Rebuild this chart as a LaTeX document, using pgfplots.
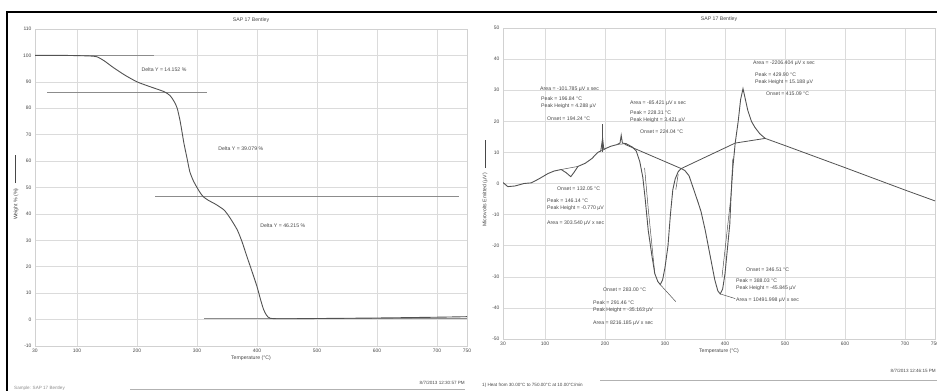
\documentclass[border=0pt]{standalone}
\usepackage{fontspec}
\setmainfont{Liberation Sans}
\usepackage{pgfplots}
\pgfplotsset{compat=1.18}
\definecolor{curve}{gray}{0.32}
\definecolor{txt}{gray}{0.28}
\newcommand{\ann}[3]{\node[anchor=west,inner sep=0pt,text=txt,font=\fontsize{5.2}{6}\selectfont] at (#1bp,{391bp-#2bp}) {#3};}
\newcommand{\annc}[3]{\node[anchor=center,inner sep=0pt,text=txt,font=\fontsize{5.2}{6}\selectfont] at (#1bp,{391bp-#2bp}) {#3};}
\begin{document}
\begin{tikzpicture}
\path[use as bounding box] (0,0) rectangle (937bp,391bp);
\pgfplotsset{
  every axis/.append style={
    scale only axis,
    width=432bp,
    xmin=30, xmax=750,
    xtick={30,100,200,300,400,500,600,700,750},
    grid=major,
    grid style={black!14, line width=0.5bp},
    axis line style={black!18},
    major tick length=0pt,
    tick style={draw=none},
    font=\fontsize{5.2}{6}\selectfont,
    ticklabel style={text=txt, font=\fontsize{5}{6}\selectfont},
    /pgf/number format/assume math mode=true,
    /pgf/number format/1000 sep={},
    label style={text=txt},
    title style={text=txt, yshift=-3bp},
    xlabel style={yshift=4bp},
  }
}
% ---------------- TGA ----------------
\begin{axis}[
  at={(35bp,45bp)}, height=317bp,
  ymin=-10, ymax=110, ytick={-10,0,...,110},
  title={SAP 17 Bentley},
  xlabel={Temperature (°C)},
  ylabel={Weight \% (\%)\quad\rule[0.5ex]{28bp}{0.4bp}},
  ylabel style={yshift=-2bp},
]
\addplot[black!45, line width=0.6bp] coordinates {(30,100) (228,100)};
\addplot[black!45, line width=0.6bp] coordinates {(50,85.85) (317,85.85)};
\addplot[black!45, line width=0.6bp] coordinates {(230,46.8) (737,46.8)};
\addplot[black!45, line width=0.6bp] coordinates {(312,0.5) (750,0.5)};
\addplot[curve, line width=0.9bp, smooth, tension=0.4] coordinates {
(30,100) (80,100) (120,99.8) (133,99.5) (145,98) (160,95.5) (180,92.5) (200,90)
(220,88.3) (245,86.3) (255,84.8) (262,82.5) (267,80) (272,75) (278,67) (283,61.5)
(288,56) (294,52.5) (300,50) (306,47.8) (311,46.4) (320,45) (330,43.8) (345,41.5)
(355,38.5) (367,34) (375,29.5) (383,24) (392,18) (400,12.5) (406,7.5) (411,3.8)
(416,1.6) (422,0.5) (440,0.3) (500,0.4) (600,0.6) (700,0.9) (750,1.1)};
\node[text=txt] at (axis cs:245,94.7) {Delta Y = 14.152 \%};
\node[text=txt] at (axis cs:373,64.6) {Delta Y = 39.079 \%};
\node[text=txt] at (axis cs:443,35.4) {Delta Y = 46.215 \%};
\end{axis}
% ---------------- DTA ----------------
\begin{axis}[
  at={(503bp,52bp)}, height=311bp,
  ymin=-50, ymax=50, ytick={-50,-40,...,50},
  title={SAP 17 Bentley},
  xlabel={Temperature (°C)},
  ylabel={Microvolts Emitted (µV)\quad\rule[0.5ex]{28bp}{0.4bp}},
  ylabel style={yshift=-2bp},
]
% baselines
\addplot[curve, line width=0.8bp] coordinates {(233,12.6) (327,4.8) (417,13) (467,14.5) (500,12.2) (600,5.1) (700,-2.1) (750,-5.6)};
\addplot[curve, line width=0.5bp] coordinates {(127,4.5) (155,5.5)};
\addplot[curve, line width=0.5bp] coordinates {(190,10.2) (200,11)};
\addplot[curve, line width=0.5bp] coordinates {(222,12.6) (236,12.8)};
\addplot[curve, line width=0.5bp] coordinates {(196,10) (196,19)};
\addplot[curve, line width=0.5bp] coordinates {(292,-32.5) (318,-38)};
\addplot[curve, line width=0.5bp] coordinates {(392,-35.5) (417,-37)};
\addplot[curve, line width=0.5bp] coordinates {(283,-29) (272,-8) (266,5)};
\addplot[curve, line width=0.5bp] coordinates {(318,-2) (322,3)};
\addplot[curve, line width=0.5bp] coordinates {(395,-30) (410,-4) (413,8)};
% main curve
\addplot[curve, line width=0.9bp] coordinates {
(30,0.3) (38,-1) (50,-0.8) (65,0) (77,0.2) (90,1.5) (105,3.2) (115,4) (127,4.5)
(135,3.5) (143,2.2) (148,3.5) (155,5.5) (167,6.5) (178,8) (188,10) (193,10.5)
(196,14.5) (198,11) (210,12) (220,12.5) (225,13) (227,15.5) (229,13) (235,12.8)
(245,11.8) (252,10.5) (258,7) (263,2) (267,-5) (272,-15) (278,-23) (283,-29)
(288,-31.5) (292,-32.5) (296,-31) (300,-27) (305,-20) (309,-10) (313,-2) (317,1.5)
(322,3.8) (327,4.8) (333,4.2) (340,2.5) (348,-2) (355,-6) (360,-9) (367,-15)
(372,-20) (377,-25) (383,-31) (388,-34.5) (392,-35.5) (396,-34) (400,-29) (404,-21)
(408,-13) (410,-4) (413,5) (417,13) (422,20) (426,27) (430,30.5) (434,27) (438,23.5)
(444,20) (450,18) (458,16) (467,14.5)};
\end{axis}
% annotations (DTA)
\ann{540}{89}{Area = -101.785 µV x sec}
\ann{541}{99}{Peak = 196.84 °C}
\ann{541}{106}{Peak Height = 4.288 µV}
\ann{547}{119}{Onset = 194.24 °C}
\ann{630}{103}{Area = -85.421 µV x sec}
\ann{630}{113}{Peak = 228.31 °C}
\ann{630}{120}{Peak Height = 3.421 µV}
\ann{640}{132}{Onset = 224.04 °C}
\ann{753}{63}{Area = -2206.404 µV x sec}
\ann{755}{75}{Peak = 429.90 °C}
\ann{755}{82}{Peak Height = 15.188 µV}
\ann{766}{94}{Onset = 415.09 °C}
\ann{557}{189}{Onset = 132.05 °C}
\ann{547}{201}{Peak = 146.14 °C}
\ann{547}{208}{Peak Height = -0.770 µV}
\ann{547}{223}{Area = 303.540 µV x sec}
\ann{603}{290}{Onset = 283.00 °C}
\ann{593}{303}{Peak = 291.46 °C}
\ann{593}{310}{Peak Height = -35.163 µV}
\ann{593}{323}{Area = 8216.185 µV x sec}
\ann{746}{270}{Onset = 346.51 °C}
\ann{736}{281}{Peak = 388.03 °C}
\ann{736}{288}{Peak Height = -45.845 µV}
\ann{736}{300}{Area = 10491.998 µV x sec}
% footers
\node[anchor=east,inner sep=0pt,text=txt,font=\fontsize{4.6}{5}\selectfont] at (465bp,{391bp-383bp}) {8/7/2013 12:30:57 PM};
\node[anchor=east,inner sep=0pt,text=txt,font=\fontsize{4.6}{5}\selectfont] at (936bp,{391bp-371bp}) {8/7/2013 12:46:15 PM};
\node[anchor=west,inner sep=0pt,text=black!45,font=\fontsize{4.6}{5}\selectfont] at (14bp,{391bp-388bp}) {Sample: SAP 17 Bentley};
\node[anchor=west,inner sep=0pt,text=txt,font=\fontsize{4.6}{5}\selectfont] at (482bp,{391bp-385bp}) {1) Heat from 30.00°C to 750.00°C at 10.00°C/min};
\draw[black!30, line width=0.4bp] (130bp,{391bp-389bp}) -- (465bp,{391bp-389bp});
\draw[black!30, line width=0.4bp] (600bp,{391bp-380bp}) -- (937bp,{391bp-380bp});
% frame
\draw[black, line width=1.8bp] (7bp,0) -- (7bp,{391bp-12bp}) -- (937bp,{391bp-12bp});
\end{tikzpicture}
\end{document}
